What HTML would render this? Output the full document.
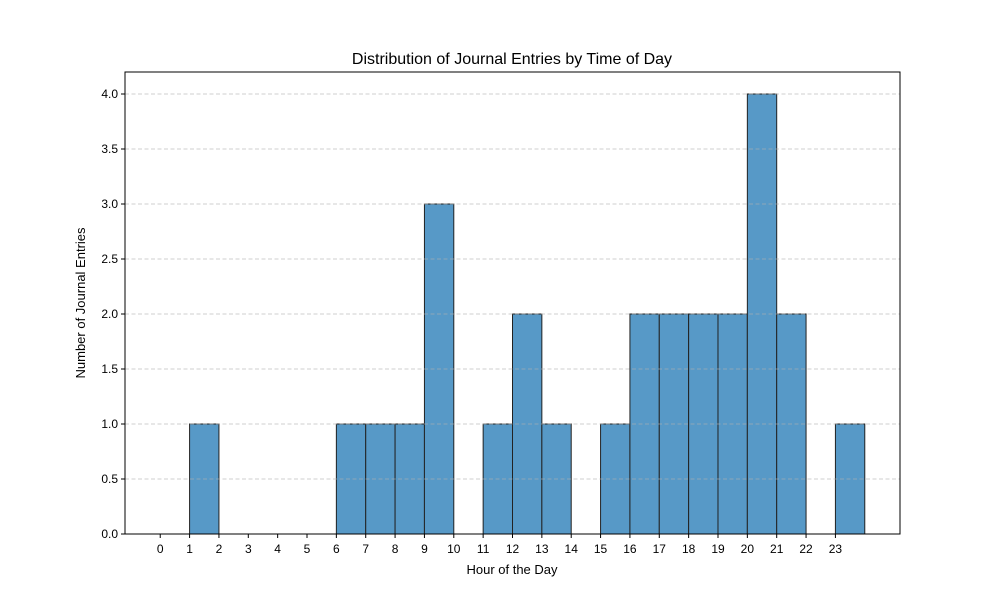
<!DOCTYPE html>
<html><head><meta charset="utf-8"><style>
body{margin:0;background:#fff;}
svg text{font-family:"Liberation Sans","DejaVu Sans",sans-serif;fill:#000;}
</style></head><body>
<svg id="chart" width="1000" height="600" xmlns="http://www.w3.org/2000/svg">
<rect width="1000" height="600" fill="#fff"/>
<g id="bars"></g>
<g id="grid"></g>
<rect x="125" y="72" width="775" height="462" fill="none" stroke="#000" stroke-width="1"/>
<g id="xt"></g>
<g id="yt"></g>
<text x="512" y="64" font-size="16" text-anchor="middle">Distribution of Journal Entries by Time of Day</text>
<text x="512" y="574" font-size="13" text-anchor="middle">Hour of the Day</text>
<text x="0" y="0" font-size="13" text-anchor="middle" transform="translate(85,303) rotate(-90)">Number of Journal Entries</text>
</svg>
<script>
const hours = [0,1,2,3,4,5,6,7,8,9,10,11,12,13,14,15,16,17,18,19,20,21,22,23];
const counts = [0,1,0,0,0,0,1,1,1,3,0,1,2,1,0,1,2,2,2,2,4,2,0,1];
const yTicks = [0,0.5,1,1.5,2,2.5,3,3.5,4];
const NS="http://www.w3.org/2000/svg";
const X0=125,X1=900,Y0=534,Y1=72,XMIN=-1.2,XMAX=25.2,YMAX=4.2;
const sx=v=>X0+(v-XMIN)/(XMAX-XMIN)*(X1-X0);
const sy=v=>Y0-v/YMAX*(Y0-Y1);
function mk(t,a,p){const e=document.createElementNS(NS,t);for(const k in a)e.setAttribute(k,a[k]);p.appendChild(e);return e;}
const bars=document.getElementById('bars');
hours.forEach((h,i)=>{if(counts[i]<=0)return;
 const r=mk('rect',{x:sx(h),y:sy(counts[i]),width:sx(h+1)-sx(h),height:sy(0)-sy(counts[i]),fill:'#5799c7',stroke:'#222','stroke-width':1},bars);
 
 
});
const grid=document.getElementById('grid'),yt=document.getElementById('yt'),xt=document.getElementById('xt');
yTicks.forEach(v=>{const y=sy(v);
 if(v>0){const l=mk('line',{x1:X0,x2:X1,y1:y,y2:y,stroke:'#b0b0b0','stroke-width':0.8,'stroke-dasharray':'4,2.5','opacity':0.8},grid);
 
 }
 mk('line',{x1:X0-4,x2:X0,y1:y,y2:y,stroke:'#000'},yt);
 const t=mk('text',{x:X0-7,y:y+4,'font-size':12,'text-anchor':'end'},yt);t.textContent=v.toFixed(1);
 
 
});
hours.forEach(h=>{const x=sx(h);
 mk('line',{x1:x,x2:x,y1:Y0,y2:Y0+4,stroke:'#000'},xt);
 const t=mk('text',{x:x,y:Y0+19,'font-size':12,'text-anchor':'middle'},xt);t.textContent=h;
 
 
});
</script>
</body></html>
